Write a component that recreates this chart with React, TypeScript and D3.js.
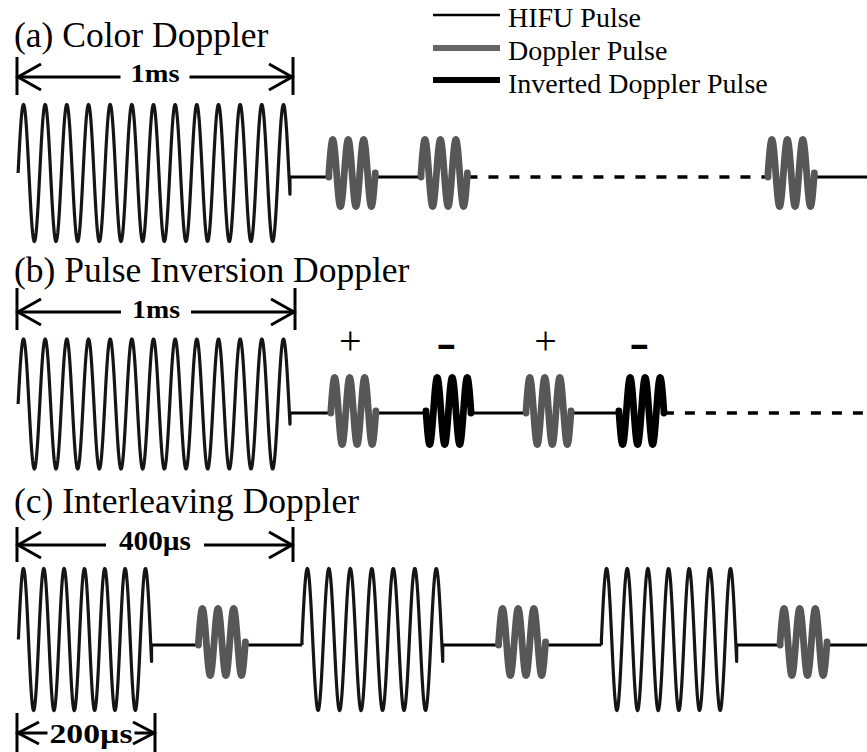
import { useEffect, useRef } from "react"
import * as d3 from "d3"

const W = 867
const H = 752

// legend entries
const legendLabels = ["HIFU Pulse", "Doppler Pulse", "Inverted Doppler Pulse"]

// panel titles
const panelTitles = ["(a) Color Doppler", "(b) Pulse Inversion Doppler", "(c) Interleaving Doppler"]

// dimension arrows: label and the duration they span (µs)
const spanLabels = ["1ms", "1ms", "400µs", "200µs"]
const spanDurations = [1000, 1000, 400, 200]

// time shown in each panel (µs)
const panelEnds = [3080, 3058, 1232]

// HIFU bursts per panel: [start, end] in µs
const hifuA = [[4, 989]]
const hifuB = [[4, 982]]
const hifuC = [[2, 195], [413, 617], [847, 1043]]
const hifuCycles = [12.55, 12.55, 6.55]

// Doppler pulses: start time (µs) and polarity (1 normal, -1 inverted)
const dopplerStartA = [1130, 1464, 2721]
const dopplerSignA = [1, 1, 1]
const dopplerStartB = [1129, 1471, 1831, 2165]
const dopplerSignB = [1, -1, 1, -1]
const dopplerStartC = [263, 698, 1106]
const dopplerSignC = [1, 1, 1]
const dopplerDuration = [168, 162, 68]
const dopplerCycles = 3

// gaps drawn dashed (index of the event before the gap)
const dashedGapA = [2]
const dashedGapB = [4]
const dashedGapC: number[] = []

type Ev = { t0: number; t1: number; kind: "hifu" | "doppler"; sign: number; cycles: number }

export default function App() {
  const svgRef = useRef<SVGSVGElement>(null)

  useEffect(() => {
    if (!svgRef.current) return
    const svg = d3.select(svgRef.current)
    svg.selectAll("*").remove()

    const serif = "'Liberation Serif', 'Times New Roman', serif"

    svg.append("rect").attr("width", W).attr("height", H).attr("fill", "#fff")

    // layout of each panel
    const rows = [
      { range: [17, 293], titleY: 47, arrowY: 77, barTop: 57, barBot: 95, labelY: 82, labelSize: 25, labelLen: 49, pad: 10, hc: 173, ha: 68.5, base: 177, dc: 173 },
      { range: [17, 295], titleY: 282, arrowY: 312, barTop: 288, barBot: 330, labelY: 318, labelSize: 25, labelLen: 48, pad: 11, hc: 404, ha: 65, base: 413, dc: 411 },
      { range: [17, 293], titleY: 513, arrowY: 545, barTop: 527, barBot: 562, labelY: 550, labelSize: 27, labelLen: 72, pad: 13, hc: 639.5, ha: 71, base: 645, dc: 642 },
    ]
    const dopAmp = 33.5

    const hifus = [hifuA, hifuB, hifuC]
    const dStarts = [dopplerStartA, dopplerStartB, dopplerStartC]
    const dSigns = [dopplerSignA, dopplerSignB, dopplerSignC]
    const dashed = [dashedGapA, dashedGapB, dashedGapC]

    const wave = (
      x: d3.ScaleLinear<number, number>,
      ev: Ev,
      center: number,
      amp: number,
      base: number,
      leadIn: boolean
    ) => {
      const y = d3.scaleLinear().domain([-1, 1]).range([center + amp, center - amp])
      const n = Math.ceil(ev.cycles * 48)
      const pts: [number, number][] = d3.range(n + 1).map((i) => {
        const f = i / n
        return [x(ev.t0 + (ev.t1 - ev.t0) * f), y(ev.sign * Math.sin(2 * Math.PI * ev.cycles * f))]
      })
      if (leadIn) pts.unshift([x(ev.t0), base])
      pts.push([x(ev.t1), base])
      return d3.line()(pts)
    }

    const dimArrow = (
      x0: number,
      x1: number,
      y: number,
      top: number,
      bot: number,
      label: string,
      labelY: number,
      size: number,
      len: number,
      pad: number,
      headW: number,
      headH: number,
      shift = 0
    ) => {
      const g = svg.append("g").attr("stroke", "#000").attr("stroke-width", 3).attr("fill", "none")
      const mid = (x0 + x1) / 2 + shift
      g.append("line").attr("x1", x0).attr("x2", x0).attr("y1", top).attr("y2", bot)
      g.append("line").attr("x1", x1).attr("x2", x1).attr("y1", top).attr("y2", bot)
      g.append("line").attr("x1", x0).attr("x2", mid - len / 2 - pad).attr("y1", y).attr("y2", y)
      g.append("line").attr("x1", mid + len / 2 + pad).attr("x2", x1).attr("y1", y).attr("y2", y)
      g.append("path").attr("d", `M${x0 + headW},${y - headH}L${x0 + 1},${y}L${x0 + headW},${y + headH}`)
      g.append("path").attr("d", `M${x1 - headW},${y - headH}L${x1 - 1},${y}L${x1 - headW},${y + headH}`)
      svg
        .append("text")
        .attr("x", mid - len / 2)
        .attr("y", labelY)
        .attr("textLength", len)
        .attr("lengthAdjust", "spacingAndGlyphs")
        .style("font-family", serif)
        .style("font-weight", "bold")
        .style("font-size", `${size}px`)
        .text(label)
    }

    rows.forEach((r, ri) => {
      const x = d3.scaleLinear().domain([0, spanDurations[ri]]).range(r.range)

      // title
      svg
        .append("text")
        .attr("x", 14)
        .attr("y", r.titleY)
        .style("font-family", serif)
        .style("font-size", "35.5px")
        .text(panelTitles[ri])

      dimArrow(x(0), x(spanDurations[ri]), r.arrowY, r.barTop, r.barBot, spanLabels[ri], r.labelY, r.labelSize, r.labelLen, r.pad, 24, 13)

      const events: Ev[] = [
        ...hifus[ri].map(([t0, t1]) => ({ t0, t1, kind: "hifu" as const, sign: 1, cycles: hifuCycles[ri] })),
        ...dStarts[ri].map((t0, i) => ({ t0, t1: t0 + dopplerDuration[ri], kind: "doppler" as const, sign: dSigns[ri][i], cycles: dopplerCycles })),
      ].sort((a, b) => a.t0 - b.t0)

      // baseline between pulses
      events.forEach((ev, i) => {
        const next = i < events.length - 1 ? events[i + 1].t0 : panelEnds[ri]
        const isDashed = dashed[ri].includes(i)
        svg
          .append("line")
          .attr("x1", x(ev.t1))
          .attr("x2", x(next))
          .attr("y1", r.base)
          .attr("y2", r.base)
          .attr("stroke", "#000")
          .attr("stroke-width", isDashed ? 3.5 : 3)
          .attr("stroke-dasharray", isDashed ? "10,11" : null)
      })

      // pulses
      events.forEach((ev) => {
        if (ev.kind === "hifu") {
          svg
            .append("path")
            .attr("d", wave(x, ev, r.hc, r.ha, r.base, ev.t0 > 10))
            .attr("fill", "none")
            .attr("stroke", "#151515")
            .attr("stroke-width", 3.2)
            .attr("stroke-linejoin", "round")
        } else {
          svg
            .append("path")
            .attr("d", wave(x, ev, r.dc, dopAmp, r.base, true))
            .attr("fill", "none")
            .attr("stroke", ev.sign > 0 ? "#575757" : "#000")
            .attr("stroke-width", 6.8)
            .attr("stroke-linecap", "round")
            .attr("stroke-linejoin", "round")
        }
      })

      // polarity marks for pulse inversion
      if (ri === 1) {
        events
          .filter((ev) => ev.kind === "doppler")
          .forEach((ev) => {
            const cx = x((ev.t0 + ev.t1) / 2)
            if (ev.sign > 0) {
              svg
                .append("text")
                .attr("x", cx - 3)
                .attr("y", 354)
                .attr("text-anchor", "middle")
                .style("font-family", serif)
                .style("font-size", "40px")
                .text("+")
            } else {
              svg
                .append("text")
                .attr("transform", `translate(${cx - 2},356) scale(1.7,1)`)
                .attr("text-anchor", "middle")
                .style("font-family", "'DejaVu Sans', sans-serif")
                .style("font-weight", "bold")
                .style("font-size", "30px")
                .text("-")
            }
          })
      }

      // second arrow in panel (c)
      if (ri === 2) {
        dimArrow(x(0), x(spanDurations[3]), 733, 713, 752, spanLabels[3], 743, 28, 83, 2, 22, 11, 5)
      }
    })

    // legend
    const legendY = [15, 48, 80]
    const legendStroke = ["#000", "#666", "#000"]
    const legendWidth = [2.5, 6, 6]
    const legendTextY = [27, 60, 93]
    legendLabels.forEach((lab, i) => {
      svg
        .append("line")
        .attr("x1", 433)
        .attr("x2", 500)
        .attr("y1", legendY[i])
        .attr("y2", legendY[i])
        .attr("stroke", legendStroke[i])
        .attr("stroke-width", legendWidth[i])
      svg
        .append("text")
        .attr("x", 508)
        .attr("y", legendTextY[i])
        .style("font-family", serif)
        .style("font-size", "28px")
        .text(lab)
    })
  }, [])

  return <svg ref={svgRef} width={W} height={H} style={{ position: "absolute", left: 0, top: 0 }} />
}
